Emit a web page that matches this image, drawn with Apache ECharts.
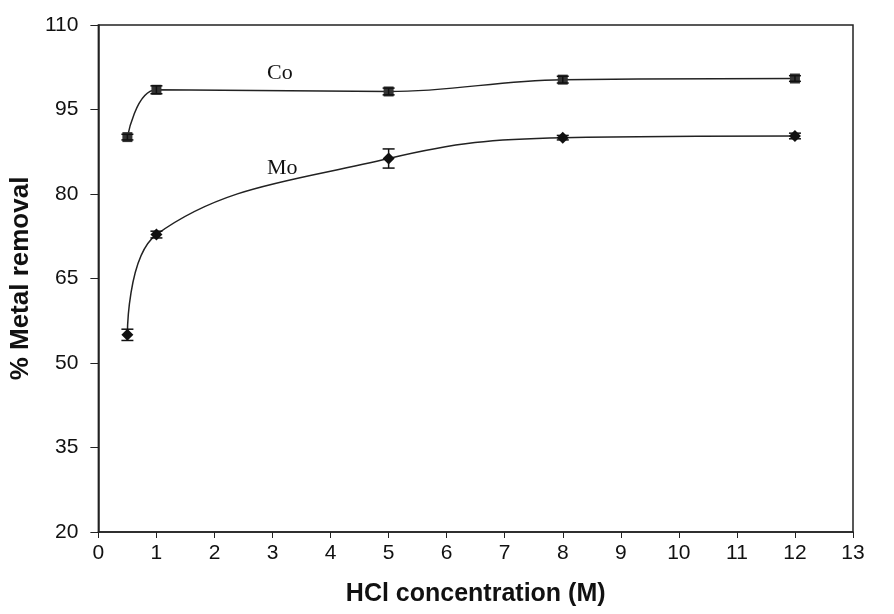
<!DOCTYPE html>
<html><head><meta charset="utf-8">
<script src="https://cdn.jsdelivr.net/npm/echarts@6/dist/echarts.min.js"></script>
<style>html,body{margin:0;padding:0;background:#fff}#c{width:894px;height:614px}</style>
</head><body><div id="c"></div>
<script>
const concentration = [0.5, 1, 5, 8, 12];
const coRemoval = [90.1, 98.5, 98.2, 100.3, 100.5];
const coError = [0.5, 0.7, 0.6, 0.6, 0.5];
const moRemoval = [55.0, 72.8, 86.3, 90.0, 90.3];
const moError = [1.0, 0.6, 1.7, 0.4, 0.5];
const yTicks = [20, 35, 50, 65, 80, 95, 110];
const xTicks = [0,1,2,3,4,5,6,7,8,9,10,11,12,13];

const chart = echarts.init(document.getElementById('c'));
function pairs(xs, ys){ return xs.map((x,i)=>[x, ys[i]]); }
function errData(xs, ys, es){ return xs.map((x,i)=>[x, ys[i]-es[i], ys[i]+es[i]]); }
function errRender(params, api){
  const x = api.value(0);
  const lo = api.coord([x, api.value(1)]);
  const hi = api.coord([x, api.value(2)]);
  const w = 6;
  const st = {stroke:'#111', lineWidth:1.5};
  return {type:'group', children:[
    {type:'line', shape:{x1:lo[0],y1:lo[1],x2:hi[0],y2:hi[1]}, style:st},
    {type:'line', shape:{x1:lo[0]-w,y1:lo[1],x2:lo[0]+w,y2:lo[1]}, style:st},
    {type:'line', shape:{x1:hi[0]-w,y1:hi[1],x2:hi[0]+w,y2:hi[1]}, style:st}
  ]};
}
chart.setOption({
  animation:false,
  backgroundColor:'#fff',
  grid:{left:97, right:41, top:25, bottom:82, show:true, borderColor:'#222', borderWidth:1.5, backgroundColor:'transparent'},
  xAxis:{type:'value', min:0, max:13, interval:1,
    axisLine:{show:true, onZero:false, lineStyle:{color:'#222', width:1.5}},
    axisTick:{show:true, length:6, lineStyle:{color:'#222'}},
    splitLine:{show:false},
    axisLabel:{color:'#111', fontSize:21, fontFamily:'Liberation Sans', margin:11,
      formatter:v=>xTicks.includes(v)?String(v):''},
    name:'HCl concentration (M)', nameLocation:'middle', nameGap:50,
    nameTextStyle:{color:'#111', fontSize:25, fontWeight:'bold', fontFamily:'Liberation Sans'}},
  yAxis:{type:'value', min:20, max:110, interval:15,
    axisLine:{show:true, lineStyle:{color:'#222', width:1.5}},
    axisTick:{show:true, length:8, lineStyle:{color:'#222'}},
    splitLine:{show:false},
    axisLabel:{color:'#111', fontSize:21, fontFamily:'Liberation Sans', margin:20,
      formatter:v=>yTicks.includes(v)?String(v):''},
    name:'% Metal removal', nameLocation:'middle', nameGap:61,
    nameTextStyle:{color:'#111', fontSize:26, fontWeight:'bold', fontFamily:'Liberation Sans'}},
  series:[
    {name:'Co', type:'line', data:pairs(concentration, coRemoval), smooth:0.4,
      symbol:'rect', symbolSize:10, itemStyle:{color:'#333'}, lineStyle:{color:'#222', width:1.5},
      z:3},
    {name:'Mo', type:'line', data:pairs(concentration, moRemoval), smooth:0.4,
      symbol:'diamond', symbolSize:12, itemStyle:{color:'#111'}, lineStyle:{color:'#222', width:1.5},
      z:3},
    {type:'custom', data:errData(concentration, coRemoval, coError), renderItem:errRender, z:4},
    {type:'custom', data:errData(concentration, moRemoval, moError), renderItem:errRender, z:4}
  ],
  graphic:[
    {type:'text', left:267, top:62, style:{text:'Co', font:'22px "Liberation Serif"', fill:'#111'}},
    {type:'text', left:267, top:157, style:{text:'Mo', font:'22px "Liberation Serif"', fill:'#111'}}
  ]
});
</script></body></html>
